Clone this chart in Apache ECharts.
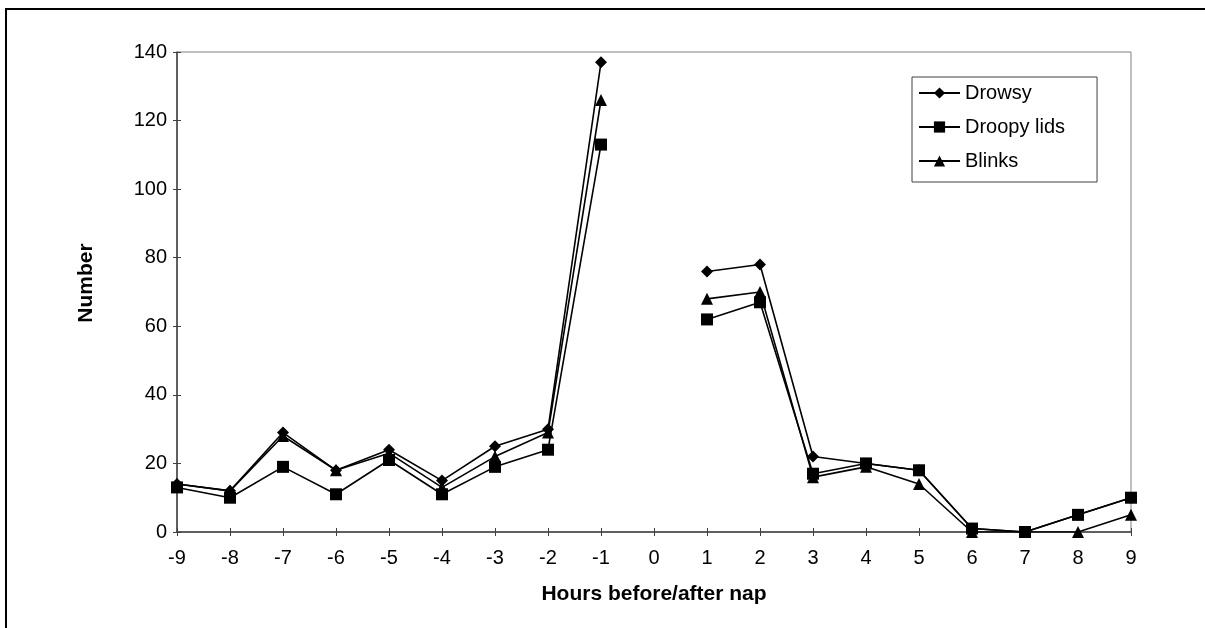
<!DOCTYPE html>
<html>
<head>
<meta charset="utf-8">
<script src="https://cdn.jsdelivr.net/npm/echarts@6/dist/echarts.min.js"></script>
<style>
  html, body { margin: 0; padding: 0; background: #fff; }
  #chart { width: 1205px; height: 628px; }
</style>
</head>
<body>
<div id="chart"></div>
<script>
// Hours relative to the nap (0 = the nap itself, no observations)
const hours = ['-9', '-8', '-7', '-6', '-5', '-4', '-3', '-2', '-1', '0', '1', '2', '3', '4', '5', '6', '7', '8', '9'];

// Counts per hour for each sign of sleepiness
const drowsy     = [14, 12, 29, 18, 24, 15, 25, 30, 137, null, 76, 78, 22, 20, 18, 1, 0, 5, 10];
const droopyLids = [13, 10, 19, 11, 21, 11, 19, 24, 113, null, 62, 67, 17, 20, 18, 1, 0, 5, 10];
const blinks     = [14, 12, 28, 18, 23, 13, 22, 29, 126, null, 68, 70, 16, 19, 14, 0, 0, 0, 5];

const FONT = "'Liberation Sans', Arial, sans-serif";

const chart = echarts.init(document.getElementById('chart'), null, { renderer: 'canvas' });

function lineSeries(name, data, symbol, size) {
  return {
    name: name,
    type: 'line',
    data: data,
    symbol: symbol,
    symbolSize: size,
    showAllSymbol: true,
    connectNulls: false,
    animation: false,
    lineStyle: { color: '#000', width: 1.6 },
    itemStyle: { color: '#000', borderWidth: 0 },
    emphasis: { disabled: true }
  };
}

chart.setOption({
  backgroundColor: '#fff',
  animation: false,
  grid: {
    left: 177, top: 52, right: 74, bottom: 96,
    show: true, borderColor: '#808080', borderWidth: 1, backgroundColor: 'transparent'
  },
  legend: {
    orient: 'vertical',
    left: 912, top: 77,
    data: ['Drowsy', 'Droopy lids', 'Blinks'],
    itemWidth: 41, itemHeight: 14, itemGap: 14,
    padding: [6, 32, 11, 6],
    borderColor: '#404040', borderWidth: 1,
    textStyle: { fontFamily: FONT, fontSize: 20, color: '#000' },
    selectedMode: false
  },
  xAxis: [{
    type: 'category',
    data: hours,
    boundaryGap: false,
    name: 'Hours before/after nap',
    nameLocation: 'middle',
    nameGap: 52,
    nameTextStyle: { fontFamily: FONT, fontSize: 21, fontWeight: 'bold', color: '#000' },
    axisLine: { lineStyle: { color: '#404040', width: 1.5 } },
    axisTick: { show: true, length: 4, interval: 0, lineStyle: { color: '#404040' } },
    axisLabel: { fontFamily: FONT, fontSize: 20, color: '#000', margin: 16, interval: 0 },
    splitLine: { show: false }
  }, {
    // inner half of the crossing tick marks
    type: 'category',
    data: hours,
    boundaryGap: false,
    position: 'bottom',
    axisLine: { show: false },
    axisTick: { show: true, inside: true, length: 4, interval: 0, lineStyle: { color: '#404040' } },
    axisLabel: { show: false },
    splitLine: { show: false }
  }],
  yAxis: [{
    type: 'value',
    min: 0, max: 140, interval: 20,
    name: 'Number',
    nameLocation: 'middle',
    nameGap: 80,
    nameTextStyle: { fontFamily: FONT, fontSize: 21, fontWeight: 'bold', color: '#000', padding: [0, 0, 0, 18] },
    axisLine: { show: true, lineStyle: { color: '#404040', width: 1.5 } },
    axisTick: { show: true, length: 4, lineStyle: { color: '#404040' } },
    axisLabel: { fontFamily: FONT, fontSize: 20, color: '#000', margin: 10 },
    splitLine: { show: false }
  }, {
    type: 'value',
    min: 0, max: 140, interval: 20,
    position: 'left',
    axisLine: { show: false },
    axisTick: { show: true, inside: true, length: 4, lineStyle: { color: '#404040' } },
    axisLabel: { show: false },
    splitLine: { show: false }
  }],
  series: [
    lineSeries('Drowsy', drowsy, 'diamond', 12),
    lineSeries('Blinks', blinks, 'triangle', 12),
    lineSeries('Droopy lids', droopyLids, 'rect', 12)
  ],
  graphic: [{
    // outer frame of the chart area
    type: 'rect',
    shape: { x: 6, y: 9, width: 1400, height: 1000 },
    style: { fill: 'none', stroke: '#000', lineWidth: 2 },
    silent: true,
    z: 100
  }]
});
</script>
</body>
</html>
